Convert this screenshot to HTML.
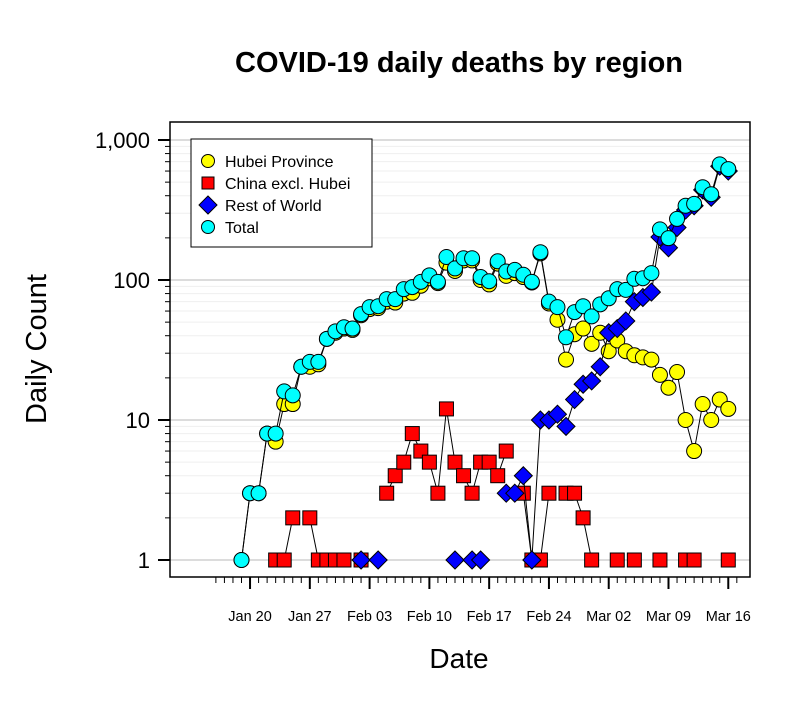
<!DOCTYPE html>
<html><head><meta charset="utf-8"><style>
body{margin:0;background:#fff;font-family:"Liberation Sans",Arial,sans-serif}
svg text{font-family:"Liberation Sans",Arial,sans-serif}
</style></head><body>
<svg id="c" width="800" height="700" xmlns="http://www.w3.org/2000/svg"></svg>
<script>
const tickLabels = ['Jan 20','Jan 27','Feb 03','Feb 10','Feb 17','Feb 24','Mar 02','Mar 09','Mar 16'];
const tickDays = [1,8,15,22,29,36,43,50,57];
const yTicks = [1,10,100,1000];
const yTickLabels = ['1','10','100','1,000'];
const total = [1,3,3,8,8,16,15,24,26,26,38,43,46,45,57,64,65,73,73,86,89,97,108,97,146,121,143,143,105,98,136,115,118,109,97,158,70,64,39,59,65,55,67,74,86,85,102,103,112,230,199,273,339,350,460,410,670,620];
const hubei = [1,3,3,8,7,13,13,24,24,25,38,42,45,44,56,62,63,70,69,80,81,91,103,95,133,116,138,138,100,93,131,107,112,105,96,155,68,52,27,41,45,35,42,31,37,31,29,28,27,21,17,22,10,6,13,10,14,12];
const china = [null,null,null,null,1,1,2,null,2,1,1,1,1,null,1,null,null,3,4,5,8,6,5,3,12,5,4,3,5,5,4,6,null,3,1,1,3,null,3,3,2,1,null,null,1,null,1,null,null,1,null,null,1,1,null,null,null,1];
const world = [null,null,null,null,null,null,null,null,null,null,null,null,null,null,1,null,1,null,null,null,null,null,null,null,null,1,null,1,1,null,null,3,3,4,1,10,10,11,9,14,18,19,24,42,45,51,70,75,82,203,170,237,316,339,440,390,650,600];

const svg = document.getElementById('c');
const NS = 'http://www.w3.org/2000/svg';
const L=170,R=750,T=122,B=577;
function x(d){return 241.5+d*8.54;}
function y(v){return 560-140*Math.log10(v);}
function el(tag,attrs,parent){const e=document.createElementNS(NS,tag);for(const k in attrs)e.setAttribute(k,attrs[k]);(parent||svg).appendChild(e);return e;}

const grid = el('g',{});


for(let dec=0;dec<4;dec++){for(let m=1;m<=9;m++){const v=m*Math.pow(10,dec);if(v>1000)break;const yy=y(v);
 el('line',{x1:L,x2:R,y1:yy,y2:yy,stroke:m==1?'#dcdcdc':'#efefef','stroke-width':m==1?2:1},grid);
 el('line',{x1:m==1?158:165,x2:L,y1:yy,y2:yy,stroke:'#000','stroke-width':m==1?2:1},grid);}}
for(let m=2;m<=9;m++){if(y(m*1000)>T) el('line',{x1:L,x2:R,y1:y(m*1000),y2:y(m*1000),stroke:'#efefef'},grid);}
const frame=el('rect',{x:L,y:T,width:R-L,height:B-T,fill:'none',stroke:'#000','stroke-width':1.5});


for(let d=-3;d<=58;d++){el('line',{x1:x(d),x2:x(d),y1:B,y2:B+6,stroke:'#000'});}
tickDays.forEach((d,i)=>{el('line',{x1:x(d),x2:x(d),y1:B,y2:B+12,stroke:'#000','stroke-width':2});
 const t=el('text',{x:x(d),y:621,'font-size':14.5,'text-anchor':'middle'});t.textContent=tickLabels[i];
 
 });
yTicks.forEach((v,i)=>{const t=el('text',{x:150,y:y(v)+8,'font-size':22,'text-anchor':'end'});t.textContent=yTickLabels[i];
 
 });

function series(arr,fill,shape,name){
 const g=el('g',{});
 
 
 const segs=[];let cur=[];const pts=[];
 arr.forEach((v,d)=>{if(v!=null&&v>0){const p=[x(d),y(v)];cur.push(p);pts.push(p);}else{if(cur.length)segs.push(cur);cur=[];}});
 if(cur.length)segs.push(cur);
 segs.forEach(s=>{if(s.length>1)el('polyline',{points:s.map(p=>p.join(',')).join(' '),fill:'none',stroke:'#000','stroke-width':1},g);});
 pts.forEach(p=>{let m;
  if(shape=='c')m=el('circle',{cx:p[0],cy:p[1],r:7.5,fill:fill,stroke:'#000','stroke-width':1},g);
  else if(shape=='s')m=el('rect',{x:p[0]-7,y:p[1]-7,width:14,height:14,fill:fill,stroke:'#000','stroke-width':1},g);
  else m=el('polygon',{points:`${p[0]},${p[1]-9} ${p[0]+9},${p[1]} ${p[0]},${p[1]+9} ${p[0]-9},${p[1]}`,fill:fill,stroke:'#000','stroke-width':1},g);
  
  
 });
}
series(hubei,'#ffff00','c','series-hubei');
series(china,'#ff0000','s','series-china');
series(world,'#0000ff','d','series-world');
series(total,'#00ffff','c','series-total');

const lg=el('g',{});


el('rect',{x:191,y:139,width:181,height:108,fill:'#fff',stroke:'#000'},lg);
const items=[['Hubei Province','#ffff00','c'],['China excl. Hubei','#ff0000','s'],['Rest of World','#0000ff','d'],['Total','#00ffff','c']];
items.forEach((it,i)=>{const cy=161+i*22,cx=208;
 if(it[2]=='c')el('circle',{cx:cx,cy:cy,r:6.5,fill:it[1],stroke:'#000'},lg);
 else if(it[2]=='s')el('rect',{x:cx-6,y:cy-6,width:12,height:12,fill:it[1],stroke:'#000'},lg);
 else el('polygon',{points:`${cx},${cy-9} ${cx+9},${cy} ${cx},${cy+9} ${cx-9},${cy}`,fill:it[1],stroke:'#000'},lg);
 const t=el('text',{x:225,y:cy+6,'font-size':16},lg);t.textContent=it[0];
 
 });

const title=el('text',{x:459,y:72,'font-size':29,'font-weight':'bold','text-anchor':'middle'});title.textContent='COVID-19 daily deaths by region';


const xt=el('text',{x:459,y:668,'font-size':28,'text-anchor':'middle'});xt.textContent='Date';


const yt=el('text',{x:46,y:349,'font-size':29,'text-anchor':'middle',transform:'rotate(-90 46 349)'});yt.textContent='Daily Count';


</script>
</body></html>
